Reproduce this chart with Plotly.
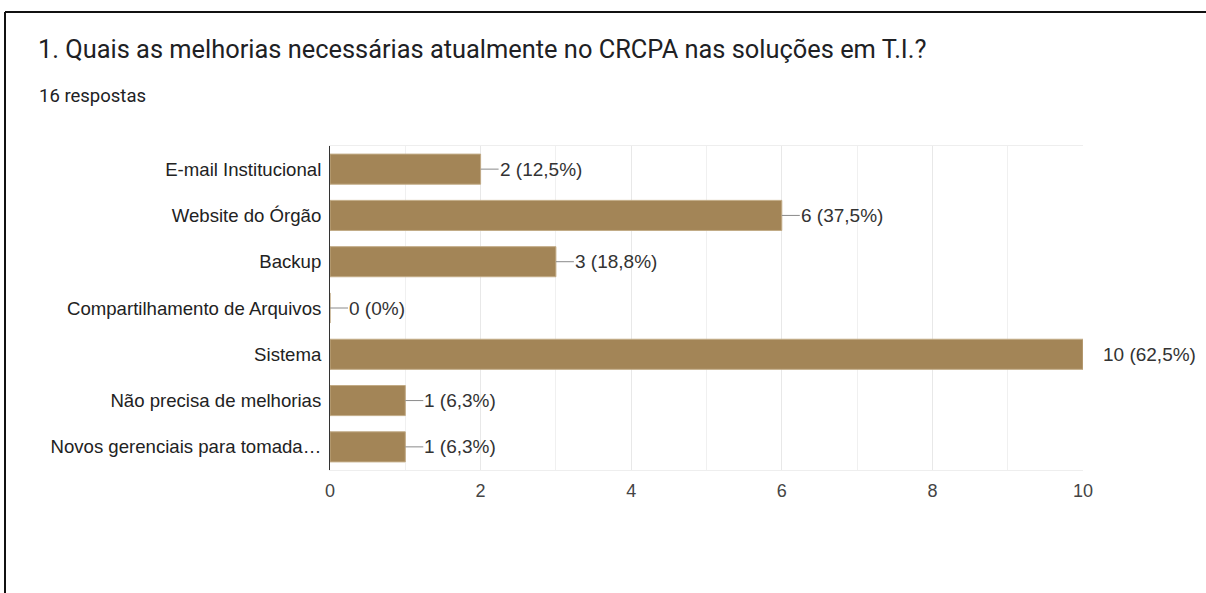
import plotly.graph_objects as go

categories = [
    "E-mail Institucional",
    "Website do Órgão",
    "Backup",
    "Compartilhamento de Arquivos",
    "Sistema",
    "Não precisa de melhorias",
    "Novos gerenciais para tomada…",
]
values = [2, 6, 3, 0, 10, 1, 1]
percents = ["12,5%", "37,5%", "18,8%", "0%", "62,5%", "6,3%", "6,3%"]
x_ticks = [0, 2, 4, 6, 8, 10]
title_text = "1. Quais as melhorias necessárias atualmente no CRCPA nas soluções em T.I.?"
subtitle_text = "16 respostas"

W, H = 1206, 593
L, R, T, B = 330, 1083, 146, 470
XMAX = 10


def px2x(px):
    return (px - L) / (R - L)


def py2y(py):
    return (B - py) / (B - T)


fig = go.Figure()
fig.add_trace(go.Bar(
    x=values,
    y=categories,
    orientation="h",
    marker=dict(color="#a38557", line=dict(color="#c2ab86", width=1)),
    width=0.65,
    hoverinfo="skip",
))

shapes = []
annotations = []
for cat, v, p in zip(categories, values, percents):
    line_len = 2 if v >= XMAX else 18
    shapes.append(dict(
        type="line", xref="x", yref="y", xsizemode="pixel", xanchor=v,
        x0=0, x1=line_len, y0=cat, y1=cat,
        line=dict(color="#8a8a8a", width=1),
    ))
    annotations.append(dict(
        x=v, y=cat, xref="x", yref="y", text=f"{v} ({p})",
        showarrow=False, xanchor="left", xshift=17 if v < XMAX else 18,
        font=dict(family="Liberation Sans, Arial", size=19, color="#333333"),
    ))

# outer frame (top and left edges)
shapes.append(dict(type="line", xref="paper", yref="paper",
                   x0=px2x(5), x1=px2x(1215), y0=py2y(12), y1=py2y(12),
                   line=dict(color="#111111", width=2)))
shapes.append(dict(type="line", xref="paper", yref="paper",
                   x0=px2x(5), x1=px2x(5), y0=py2y(12), y1=py2y(600),
                   line=dict(color="#111111", width=2)))

annotations.append(dict(
    x=px2x(36), y=py2y(49), xref="paper", yref="paper", text=title_text,
    showarrow=False, xanchor="left", yanchor="middle",
    font=dict(family="Roboto, Arial", size=25.4, color="#202124"),
))
annotations.append(dict(
    x=px2x(37), y=py2y(96), xref="paper", yref="paper", text=subtitle_text,
    showarrow=False, xanchor="left", yanchor="middle",
    font=dict(family="Roboto, Arial", size=18.5, color="#202124"),
))

fig.update_layout(
    width=W, height=H,
    margin=dict(l=L, r=W - R, t=T, b=H - B, pad=0),
    paper_bgcolor="white", plot_bgcolor="white",
    showlegend=False,
    shapes=shapes,
    annotations=annotations,
    xaxis=dict(
        range=[0, XMAX], tickvals=x_ticks, ticks="",
        showgrid=True, gridcolor="#e8e8e8", gridwidth=1,
        minor=dict(dtick=1, showgrid=True, gridcolor="#f0f0f0"),
        showline=True, linecolor="#eeeeee", linewidth=1, mirror=True,
        zeroline=False, ticklabelstandoff=4,
        tickfont=dict(family="Liberation Sans, Arial", size=18, color="#444444"),
        fixedrange=True,
    ),
    yaxis=dict(
        categoryorder="array", categoryarray=categories, autorange="reversed",
        showline=True, linecolor="#333333", linewidth=1, ticks="",
        showgrid=False, ticklabelstandoff=4,
        tickfont=dict(family="Liberation Sans, Arial", size=18.6, color="#222222"),
        fixedrange=True,
    ),
)

fig.write_html(
    "out.html",
    config={"displayModeBar": False},
    post_script="document.body.style.margin='0';document.body.style.overflow='hidden';",
)
